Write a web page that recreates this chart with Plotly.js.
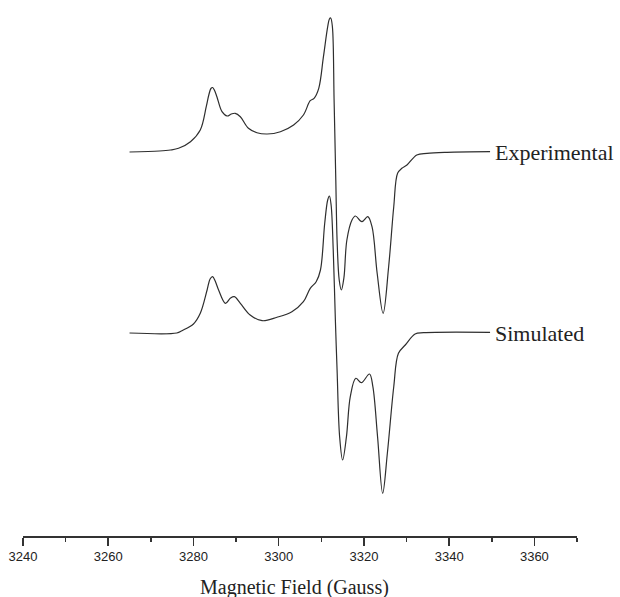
<!DOCTYPE html>
<html>
<head>
<meta charset="utf-8">
<script src="https://cdn.plot.ly/plotly-3.0.1.min.js"></script>
<style>
  html, body { margin: 0; padding: 0; background: #fff; }
  #chart { width: 620px; height: 597px; }
</style>
</head>
<body>
<div id="chart"></div>
<script>
// EPR spectra: first-derivative signal (arbitrary units) vs. magnetic field (G)
const expField = [3265.0, 3272.0, 3274.6, 3276.5, 3279.3, 3281.6, 3283.0, 3283.6, 3284.1, 3284.5,
  3284.9, 3285.5, 3286.7, 3287.9, 3288.9, 3289.8, 3291.0, 3292.9, 3294.9, 3297.3,
  3300.4, 3303.5, 3305.8, 3307.4, 3308.3, 3309.4, 3310.5, 3311.5, 3311.9, 3312.2,
  3312.6, 3313.0, 3313.4, 3313.7, 3314.2, 3314.7, 3315.3, 3316.0, 3317.2, 3318.0,
  3319.5, 3320.9, 3321.9, 3323.1, 3324.5, 3325.8, 3327.0, 3327.9, 3328.9, 3330.1,
  3332.4, 3334.8, 3339.5, 3349.6];
const expSignal = [0.0, 0.1, 0.2, 0.37, 1.03, 2.2, 4.53, 5.7, 6.35, 6.45,
  6.2, 5.53, 4.03, 3.6, 3.8, 3.87, 3.53, 2.37, 1.93, 1.8,
  2.03, 2.7, 3.7, 5.13, 5.37, 6.37, 9.53, 12.53, 13.3, 13.4,
  12.53, 5.2, -2.8, -8.8, -12.8, -13.8, -12.6, -8.8, -6.8, -6.4,
  -6.97, -6.47, -7.47, -12.1, -16.13, -11.47, -5.47, -2.13, -1.63, -1.3,
  -0.3, -0.13, -0.03, 0.03];

const simField = [3265.0, 3276.1, 3277.3, 3280.0, 3281.6, 3283.2, 3283.9, 3284.5, 3285.1, 3285.9,
  3287.5, 3288.7, 3289.6, 3291.0, 3293.3, 3296.1, 3299.6, 3303.1, 3305.8, 3307.4,
  3308.8, 3309.8, 3310.8, 3311.5, 3311.9, 3312.3, 3312.8, 3313.3, 3313.7, 3314.3,
  3315.0, 3315.9, 3316.8, 3318.1, 3319.4, 3321.3, 3322.1, 3323.2, 3324.4, 3325.5,
  3327.0, 3328.1, 3329.7, 3332.0, 3334.0, 3349.6];
const simSignal = [0.0, 0.0, 0.23, 0.9, 1.97, 4.3, 5.4, 5.63, 5.2, 4.3,
  2.97, 3.5, 3.63, 2.97, 1.8, 1.23, 1.57, 2.13, 3.13, 4.47,
  5.13, 6.3, 10.97, 13.3, 13.7, 12.8, 8.3, 1.3, -3.7, -10.37,
  -12.7, -10.37, -6.37, -4.53, -4.97, -4.1, -5.37, -10.37, -16.03, -12.03,
  -5.37, -2.03, -1.2, -0.1, 0.03, 0.07];

const seriesNames = ['Experimental', 'Simulated'];
const tickValues = [3240, 3260, 3280, 3300, 3320, 3340, 3360];
const tickLabels = ['3240', '3260', '3280', '3300', '3320', '3340', '3360'];

// vertical stacking of the two traces
const expOffset = 38.4;
const simOffset = 20.3;

const lineStyle = { color: '#2e2e2e', width: 1.2, shape: 'spline', smoothing: 1 };

const traces = [
  { x: expField, y: expSignal.map(v => v + expOffset), mode: 'lines', line: lineStyle,
    name: seriesNames[0], hoverinfo: 'skip' },
  { x: simField, y: simSignal.map(v => v + simOffset), mode: 'lines', line: lineStyle,
    name: seriesNames[1], hoverinfo: 'skip' }
];

const labelFont = { family: 'Liberation Serif', size: 22, color: '#222' };

const layout = {
  width: 620, height: 597,
  margin: { l: 23, r: 43, t: 0, b: 61 },
  paper_bgcolor: '#fff', plot_bgcolor: '#fff',
  showlegend: false,
  font: { family: 'Liberation Sans', size: 13, color: '#222' },
  xaxis: {
    range: [3240, 3370], autorange: false,
    showline: true, linecolor: '#333', linewidth: 1.5,
    showgrid: false, zeroline: false,
    ticks: 'outside', ticklen: 8, tickwidth: 1.5, tickcolor: '#333',
    tickmode: 'array', tickvals: tickValues, ticktext: tickLabels,
    tickfont: { family: 'Liberation Sans', size: 13, color: '#222' },
    minor: { dtick: 10, tick0: 3240, ticks: 'outside', ticklen: 4, tickwidth: 1.5, tickcolor: '#333', showgrid: false },
    automargin: false
  },
  yaxis: { visible: false, range: [0, 53.6], autorange: false, fixedrange: true },
  annotations: [
    { text: seriesNames[0], xref: 'x', yref: 'y', x: 3350.4, y: expOffset,
      xanchor: 'left', yanchor: 'middle', showarrow: false, font: labelFont },
    { text: seriesNames[1], xref: 'x', yref: 'y', x: 3350.4, y: simOffset,
      xanchor: 'left', yanchor: 'middle', showarrow: false, font: labelFont },
    { text: 'Magnetic Field (Gauss)', xref: 'paper', yref: 'paper', x: 0.5, y: 0,
      xanchor: 'center', yanchor: 'middle', xshift: -6, yshift: -51, showarrow: false,
      font: { family: 'Liberation Serif', size: 20, color: '#222' } }
  ]
};

Plotly.newPlot('chart', traces, layout, { displayModeBar: false, staticPlot: true });
</script>
</body>
</html>
